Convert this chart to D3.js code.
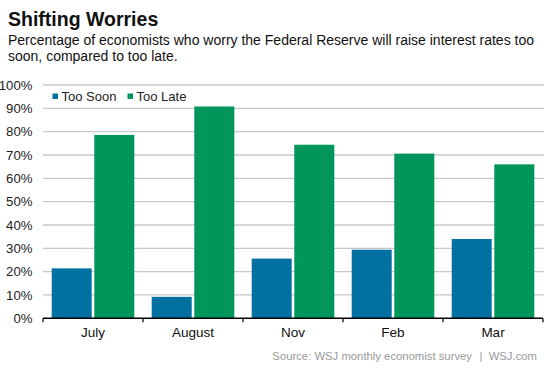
<!DOCTYPE html>
<html><head><meta charset="utf-8">
<script src="https://cdn.jsdelivr.net/npm/d3@7"></script>
<style>
html,body{margin:0;padding:0;background:#fff;}
svg{display:block;font-family:"Liberation Sans",Arial,sans-serif;}
</style></head><body>
<svg id="chart" width="553" height="369"></svg>
<script>
const categories = ["July", "August", "Nov", "Feb", "Mar"];
const seriesNames = ["Too Soon", "Too Late"];
const tooSoon = [21.4, 9.2, 25.6, 29.4, 34.0];
const tooLate = [78.6, 90.8, 74.4, 70.6, 66.0];
const yTicks = [0, 10, 20, 30, 40, 50, 60, 70, 80, 90, 100];
const colors = ["#0270a1", "#00965b"];

(function () {
const svg = d3.select("#chart");
const plotLeft = 43, plotRight = 543, plotTop = 85, plotBottom = 318.3;

const x = d3.scaleBand().domain(categories).range([plotLeft, plotRight]).padding(0);
const xs = d3.scaleBand().domain(seriesNames).range([8.7, x.bandwidth() - 8.7]).paddingInner(0.061);
const y = d3.scaleLinear().domain([0, 100]).range([plotBottom, plotTop]);

// title
svg.append("text").attr("x", 8).attr("y", 26).attr("font-size", 19.5).attr("font-weight", "bold")
  .attr("fill", "#111").text("Shifting Worries");
svg.append("text").attr("x", 8).attr("y", 44.5).attr("font-size", 14).attr("fill", "#111")
  .text("Percentage of economists who worry the Federal Reserve will raise interest rates too");
svg.append("text").attr("x", 8).attr("y", 61).attr("font-size", 14).attr("fill", "#111")
  .text("soon, compared to too late.");

// gridlines
svg.append("g").selectAll("line").data(yTicks.filter(d => d > 0)).join("line")
  .attr("x1", plotLeft).attr("x2", plotRight + 1)
  .attr("y1", d => y(d)).attr("y2", d => y(d))
  .attr("stroke", "#c8c8c8").attr("stroke-width", 1.3);

// y labels
svg.append("g").selectAll("text").data(yTicks).join("text")
  .attr("x", 32.5).attr("y", d => y(d)).attr("dy", "0.35em")
  .attr("text-anchor", "end").attr("font-size", 13.2).attr("fill", "#222")
  .text(d => d + "%");

// bars
const data = categories.map((c, i) => ({c, vals: [tooSoon[i], tooLate[i]]}));
const groups = svg.append("g").selectAll("g").data(data).join("g")
  .attr("transform", d => `translate(${x(d.c)},0)`);
groups.selectAll("rect").data(d => d.vals.map((v, j) => ({name: seriesNames[j], v, j}))).join("rect")
  .attr("x", d => xs(d.name)).attr("width", xs.bandwidth())
  .attr("y", d => y(d.v)).attr("height", d => y(0) - y(d.v))
  .attr("fill", d => colors[d.j]);

// x axis
const xAxis = svg.append("g");
xAxis.append("line").attr("x1", plotLeft).attr("x2", plotRight).attr("y1", plotBottom).attr("y2", plotBottom)
  .attr("stroke", "#000").attr("stroke-width", 1.5);
const bounds = categories.map(c => x(c)).concat([plotRight]);
xAxis.selectAll("line.tick").data(bounds).join("line").attr("class", "tick")
  .attr("x1", d => d).attr("x2", d => d).attr("y1", plotBottom).attr("y2", plotBottom + 4)
  .attr("stroke", "#000").attr("stroke-width", 1.2);
xAxis.selectAll("text").data(categories).join("text")
  .attr("x", d => x(d) + x.bandwidth() / 2).attr("y", 337)
  .attr("text-anchor", "middle").attr("font-size", 13.5).attr("fill", "#111")
  .text(d => d);

// legend
const legend = svg.append("g");
const legX = [52.5, 127.5];
seriesNames.forEach((n, i) => {
  legend.append("rect").attr("x", legX[i]).attr("y", 93.5).attr("width", 5.5).attr("height", 5.5).attr("fill", colors[i]);
  legend.append("text").attr("x", legX[i] + 9).attr("y", 96.5).attr("dy", "0.35em")
    .attr("font-size", 13).attr("fill", "#222").text(n);
});

// source
const src = svg.append("g").attr("font-size", 11.3).attr("fill", "#999");
src.append("text").attr("x", 472).attr("y", 360).attr("text-anchor", "end")
  .text("Source: WSJ monthly economist survey");
src.append("text").attr("x", 481).attr("y", 360).attr("text-anchor", "middle").text("|");
src.append("text").attr("x", 537).attr("y", 360).attr("text-anchor", "end").text("WSJ.com");
})();
</script>
</body></html>
